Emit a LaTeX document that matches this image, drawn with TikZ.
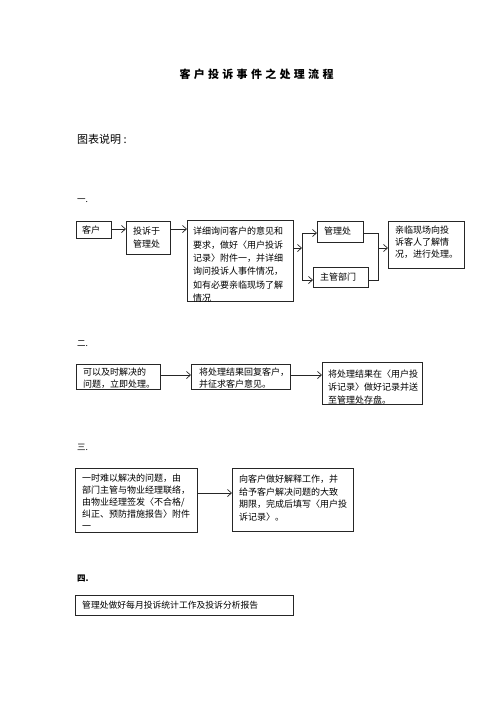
\documentclass[tikz,border=0pt]{standalone}
\usepackage{fontspec}
\setmainfont{Noto Sans CJK SC}
\usetikzlibrary{arrows.meta}
\XeTeXinterchartokenstate=1
\XeTeXinterchartoks 1 1 = {\hskip 0pt plus 0.1pt\relax}
\XeTeXinterchartoks 1 2 = {\hskip 0pt plus 0.1pt\relax}
\XeTeXinterchartoks 1 3 = {\hskip 0pt plus 0.1pt\relax}
\XeTeXinterchartoks 2 1 = {\hskip 0pt plus 0.1pt\relax}
\XeTeXinterchartoks 3 1 = {\hskip 0pt plus 0.1pt\relax}
\XeTeXinterchartoks 3 2 = {\hskip 0pt plus 0.1pt\relax}
\XeTeXinterchartoks 3 3 = {\hskip 0pt plus 0.1pt\relax}
\XeTeXinterchartoks 1 0 = {\hskip 0pt plus 0.1pt\relax}
\newcommand\jl[2]{\makebox[#1pt][s]{#2}}
\newcommand\tsp{\hspace{3.3pt}}
\newcommand\tlines[5]{\foreach \t [count=\i] in {#5}{\node[txt] (#1\i) at (#2,{#3+(\i-1)*#4}) {\t};}}
\tikzset{
  box/.style={draw=black!85, line width=0.8pt, inner sep=0pt, anchor=north west},
  txt/.style={inner sep=0pt, anchor=base west, font=\fontsize{9}{11}\selectfont, text=black},
  lbl/.style={inner sep=0pt, anchor=base west, font=\fontsize{8.5}{10}\selectfont, text=black},
  arr/.style={draw=black!85, line width=0.7pt, -{Straight Barb[length=4pt,width=7pt]}},
  ln/.style={draw=black!85, line width=0.7pt}
}
\begin{document}
\begin{tikzpicture}[x=1pt,y=-1pt]
\useasboundingbox[fill=white] (0,0) rectangle (500,707);

% title
\node[inner sep=0pt, anchor=base, font=\fontsize{11}{13}\bfseries\selectfont] (title) at (256.5,78.2)
  {客\tsp 户\tsp 投\tsp 诉\tsp 事\tsp 件\tsp 之\tsp 处\tsp 理\tsp 流\tsp 程};
\node[inner sep=0pt, anchor=base west, font=\fontsize{11}{13}\selectfont] (legend) at (77,143.2) {图表说明 :};

% section labels
\node[lbl] (s1) at (77,202) {一.};
\node[lbl] (s2) at (77,346) {二.};
\node[lbl] (s3) at (77,450) {三.};
\node[lbl, font=\fontsize{8.5}{10}\bfseries\selectfont] (s4) at (77,581) {四.};

% ---------- row 1 ----------
\node[box, minimum width=35pt, minimum height=17pt] (kh) at (76,221) {};
\node[box, minimum width=44pt, minimum height=33pt] (ts) at (126,221) {};
\node[box, minimum width=106pt, minimum height=81pt] (dt) at (187,220) {};
\node[box, minimum width=46pt, minimum height=21pt] (gl) at (317,221) {};
\node[box, minimum width=55pt, minimum height=20pt] (zg) at (313,267) {};
\node[box, minimum width=76pt, minimum height=47pt] (qx) at (388,221) {};

\tlines{khT}{82}{233.4}{13}{客户}
\tlines{tsT}{133}{234.4}{13}{投诉于,管理处}
\begin{scope}
\clip (dt.north west) rectangle (dt.south east);
\tlines{dtT}{193}{234.9}{13.3}{\jl{96}{详细询问客户的意见和},\jl{96}{要求，做好〈用户投诉},\jl{96}{记录〉附件一，并详细},\jl{96}{询问投诉人事件情况，},\jl{96}{如有必要亲临现场了解},情况}
\end{scope}
\tlines{glT}{324}{234.4}{13}{管理处}
\tlines{zgT}{320}{280.4}{13}{主管部门}
\tlines{qxT}{395}{233.4}{12}{\jl{63}{亲临现场向投},\jl{63}{诉客人了解情},况，进行处理。}

\coordinate (ja)  at (302,248);
\coordinate (jat) at (302,233);
\coordinate (jab) at (302,280);
\coordinate (jb)  at (378,248);
\coordinate (jbt) at (378,233);
\coordinate (jbb) at (378,280);

\draw[arr] (kh.east |- 0,229) -- (ts.west |- 0,229);
\draw[arr] (ts.east |- 0,229) -- (dt.west |- 0,229);
\draw[arr] (dt.east |- ja) -- (ja);
\draw[ln] (jat) -- (jab);
\draw[arr] (jat) -- (jat -| gl.west);
\draw[arr] (jab) -- (jab -| zg.west);
\draw[ln] (gl.east |- jbt) -- (jbt) -- (jbb) -- (zg.east |- jbb);
\draw[arr] (jb) -- (jb -| qx.west);

% ---------- row 2 ----------
\node[box, minimum width=84pt, minimum height=25pt] (b21) at (76,364) {};
\node[box, minimum width=99pt, minimum height=25pt] (b22) at (191,364) {};
\node[box, minimum width=100pt, minimum height=42pt] (b23) at (322,362) {};
\tlines{b21T}{83}{375.4}{12}{\jl{72}{可以及时解决的},问题，立即处理。}
\tlines{b22T}{199}{375.4}{12}{将处理结果回复客户，,并征求客户意见。}
\begin{scope}
\clip (b23.north west) rectangle (b23.south east);
\tlines{b23T}{328}{377.4}{13}{将处理结果在〈用户投,诉记录〉做好记录并送,至管理处存盘。}
\end{scope}
\draw[arr] (b21.east |- 0,375) -- (b22.west |- 0,375);
\draw[arr] (b22.east |- 0,375) -- (b23.west |- 0,375);

% ---------- row 3 ----------
\node[box, minimum width=122pt, minimum height=64pt] (b31) at (75,468) {};
\node[box, minimum width=121pt, minimum height=63pt] (b32) at (232,468) {};
\begin{scope}
\clip (b31.north west) rectangle (b31.south east);
\tlines{b31T}{82}{481.4}{12}{\jl{108}{一时难以解决的问题，由},\jl{108}{部门主管与物业经理联络，},\jl{108}{由物业经理签发〈不合格/},\jl{108}{纠正、预防措施报告〉附件},一}
\end{scope}
\tlines{b32T}{239}{482.4}{12.7}{\jl{108}{向客户做好解释工作，并},\jl{108}{给予客户解决问题的大致},\jl{108}{期限，完成后填写〈用户投},诉记录〉。}
\draw[arr] (b31.east |- 0,493) -- (b32.west |- 0,493);

% ---------- row 4 ----------
\node[box, minimum width=218pt, minimum height=20pt] (b41) at (75,595) {};
\node[txt, font=\fontsize{8.8}{10}\selectfont] (b41T) at (82,608.4) {管理处做好每月投诉统计工作及投诉分析报告};
\end{tikzpicture}
\end{document}
